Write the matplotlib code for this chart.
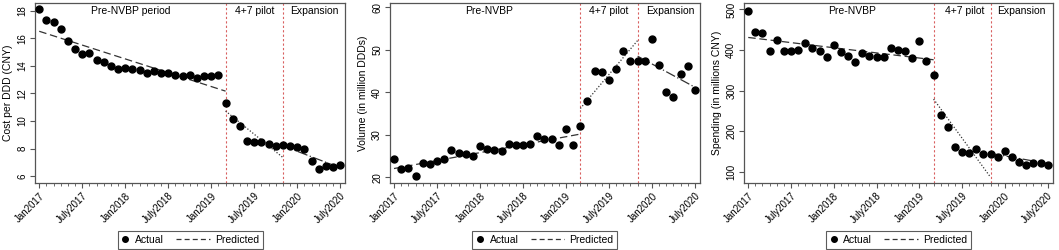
import matplotlib
matplotlib.use('Agg')
import matplotlib.pyplot as plt
from matplotlib.lines import Line2D
from matplotlib.legend_handler import HandlerLine2D

plt.rcParams['font.family'] = ['Liberation Sans', 'DejaVu Sans']

# months since Jan2017 (0..42 -> Jan2017..July2020)
months = list(range(43))
tick_pos = [0, 6, 12, 18, 24, 30, 36, 42]
tick_lab = ['Jan2017', 'July2017', 'Jan2018', 'July2018', 'Jan2019', 'July2019', 'Jan2020', 'July2020']
pilot_start = 26
expansion_start = 34

# panel 1 - cost per DDD
cost = [18.12, 17.35, 17.2, 16.67, 15.78, 15.2, 14.87, 14.9, 14.43, 14.24, 13.95, 13.78, 13.86,
        13.76, 13.66, 13.47, 13.61, 13.5, 13.47, 13.33, 13.28, 13.33, 13.13, 13.28, 13.28, 13.35,
        11.28, 10.17, 9.66, 8.55, 8.46, 8.5, 8.36, 8.19, 8.24, 8.17, 8.1, 7.95, 7.13, 6.55, 6.72, 6.67, 6.8]
cost_pred_pre = [16.5, 12.16]
cost_pred_pilot = [10.72, 7.35]
cost_pred_exp = [8.2, 6.6]

# panel 2 - volume
volume = [24.3, 22.06, 22.14, 20.4, 23.33, 23.17, 23.89, 24.29, 26.35, 25.71, 25.63, 25.0, 27.3,
          26.59, 26.51, 26.19, 27.94, 27.54, 27.7, 27.78, 29.76, 29.13, 29.13, 27.7, 31.35, 27.62,
          32.14, 38.0, 45.08, 44.76, 42.94, 45.4, 49.68, 47.46, 47.46, 47.3, 52.46, 46.43, 40.16,
          38.89, 44.21, 46.11, 40.56]
vol_pred_pre = [22.1, 30.2]
vol_pred_pilot = [36.2, 52.2]
vol_pred_exp = [48.5, 41.2]

# panel 3 - spending
spend = [497, 444, 443, 397, 424, 398, 398, 400, 418, 405, 398, 383, 413, 396, 386, 371, 392, 385,
         384, 383, 406, 399, 398, 380, 422, 372, 338, 240, 210, 162, 148, 145, 155, 143, 143, 136,
         150, 137, 125, 117, 121, 121, 117]
sp_pred_pre = [431, 376]
sp_pred_pilot = [279, 86]
sp_pred_exp = [145, 120]

panels = [
    (cost, cost_pred_pre, cost_pred_pilot, cost_pred_exp, 'Cost per DDD (CNY)', (5.5, 18.55), [6, 8, 10, 12, 14, 16, 18],
     'Pre-NVBP period', [12.8, 30, 38.4], [0.033, 0.326]),
    (volume, vol_pred_pre, vol_pred_pilot, vol_pred_exp, 'Volume (in million DDDs)', (18.7, 61), [20, 30, 40, 50, 60],
     'Pre-NVBP', [13.3, 29.9, 38.5], [0.368, 0.661]),
    (spend, sp_pred_pre, sp_pred_pilot, sp_pred_exp, 'Spending (in millions CNY)', (72, 516), [100, 200, 300, 400, 500],
     'Pre-NVBP', [14.5, 30.3, 38.3], [0.7025, 0.994]),
]


# legend line drawn longer, reaching back into the column gap
class LongLine(HandlerLine2D):
    def create_artists(self, legend, orig_handle, xdescent, ydescent, width, height, fontsize, trans):
        extra = fontsize * 2.4
        return super().create_artists(legend, orig_handle, xdescent + extra, ydescent,
                                      width + extra, height, fontsize, trans)


fig = plt.figure(figsize=(10.59, 2.5), dpi=100)
line_col = '#333333'
spine_col = '#555555'

for vals, p_pre, p_pil, p_exp, ylab, ylim, yt, pre_lab, lab_x, (x0, x1) in panels:
    ax = fig.add_axes([x0, 0.268, x1 - x0, 0.72])
    ax.plot(months, vals, 'o', color='black', ms=5, zorder=3)
    ax.plot([0, pilot_start], p_pre, color=line_col, lw=0.9, ls=(0, (6, 3)))
    ax.plot([pilot_start, expansion_start], p_pil, color=line_col, lw=0.9, ls=(0, (1, 1.5)))
    ax.plot([expansion_start, 42], p_exp, color=line_col, lw=0.9, ls=(0, (8, 2, 1, 2)))
    for v in [pilot_start, expansion_start]:
        ax.axvline(v, color='#d96060', lw=0.8, ls=(0, (2, 2)), zorder=1)
    ax.set_xlim(-0.6, 42.7)
    ax.set_ylim(*ylim)
    ax.set_xticks(tick_pos)
    ax.set_xticklabels(tick_lab, rotation=45, ha='right', rotation_mode='anchor', fontsize=7)
    ax.set_xticks(months, minor=True)
    ax.set_yticks(yt)
    ax.set_yticklabels([str(t) for t in yt], rotation=90, va='center', fontsize=7)
    ax.set_ylabel(ylab, fontsize=7.5, labelpad=3)
    ax.tick_params(axis='both', colors=spine_col, labelcolor='black', length=3.5, width=0.8, pad=2)
    ax.tick_params(axis='x', which='minor', length=2.5, width=0.6, colors=spine_col)
    for s in ax.spines.values():
        s.set_color(spine_col)
        s.set_linewidth(0.9)
    for txt, xx in zip([pre_lab, '4+7 pilot', 'Expansion'], lab_x):
        ax.text(xx, 0.955, txt, transform=ax.get_xaxis_transform(), ha='center', va='center', fontsize=7.5)
    pred_handle = Line2D([], [], color=line_col, lw=0.9, ls=(0, (4, 2.5)))
    handles = [Line2D([], [], marker='o', ls='none', color='black', ms=4), pred_handle]
    leg = ax.legend(handles, ['Actual', 'Predicted'], ncol=2, loc='center',
                    bbox_to_anchor=((x0 + x1) / 2, 0.04), bbox_transform=fig.transFigure,
                    fontsize=7.5, frameon=True, fancybox=False, edgecolor='#333333',
                    handlelength=0.8, handletextpad=0.5, columnspacing=3.6,
                    borderpad=0.35, borderaxespad=0,
                    handler_map={pred_handle: LongLine()})
    leg.get_frame().set_linewidth(0.8)

fig.savefig('out.png', dpi=100)
